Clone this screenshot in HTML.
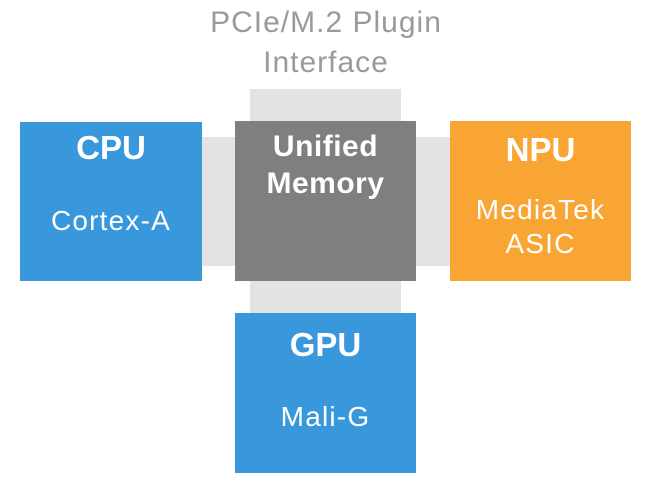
<!DOCTYPE html>
<html><head><style>
body{margin:0;width:652px;height:479px;background:#fff;position:relative;overflow:hidden;font-family:"Liberation Sans","DejaVu Sans",sans-serif}
div{position:absolute}
.t{position:absolute;left:0;right:0;text-align:center;color:#fff;white-space:nowrap}
.s{font-size:28px;letter-spacing:1.2px;line-height:34px}
</style></head><body>
<div style="left:0;width:652px;top:3px;text-align:center;color:#9a9a9a;font-size:30px;line-height:40px;letter-spacing:1px">PCIe/M.2 Plugin<br>Interface</div>
<div style="left:250px;top:89px;width:151px;height:226px;background:#e3e3e3"></div>
<div style="left:200px;top:137px;width:252px;height:129px;background:#e3e3e3"></div>
<div style="left:20px;top:122px;width:182px;height:159px;background:#3898db">
 <div class="t" style="top:6px;font-size:33px;font-weight:bold;line-height:40px">CPU</div>
 <div class="t s" style="top:82px">Cortex-A</div>
</div>
<div style="left:235px;top:121px;width:181px;height:160px;background:#7f7f7f">
 <div class="t" style="top:7px;font-size:30px;font-weight:bold;line-height:37px;letter-spacing:0.5px">Unified<br>Memory</div>
</div>
<div style="left:450px;top:121px;width:181px;height:160px;background:#f9a533">
 <div class="t" style="top:9px;font-size:33px;font-weight:bold;line-height:40px">NPU</div>
 <div class="t s" style="top:72px">MediaTek<br>ASIC</div>
</div>
<div style="left:235px;top:313px;width:181px;height:160px;background:#3898db">
 <div class="t" style="top:12px;font-size:33px;font-weight:bold;line-height:40px">GPU</div>
 <div class="t s" style="top:87px">Mali-G</div>
</div>
</body></html>
